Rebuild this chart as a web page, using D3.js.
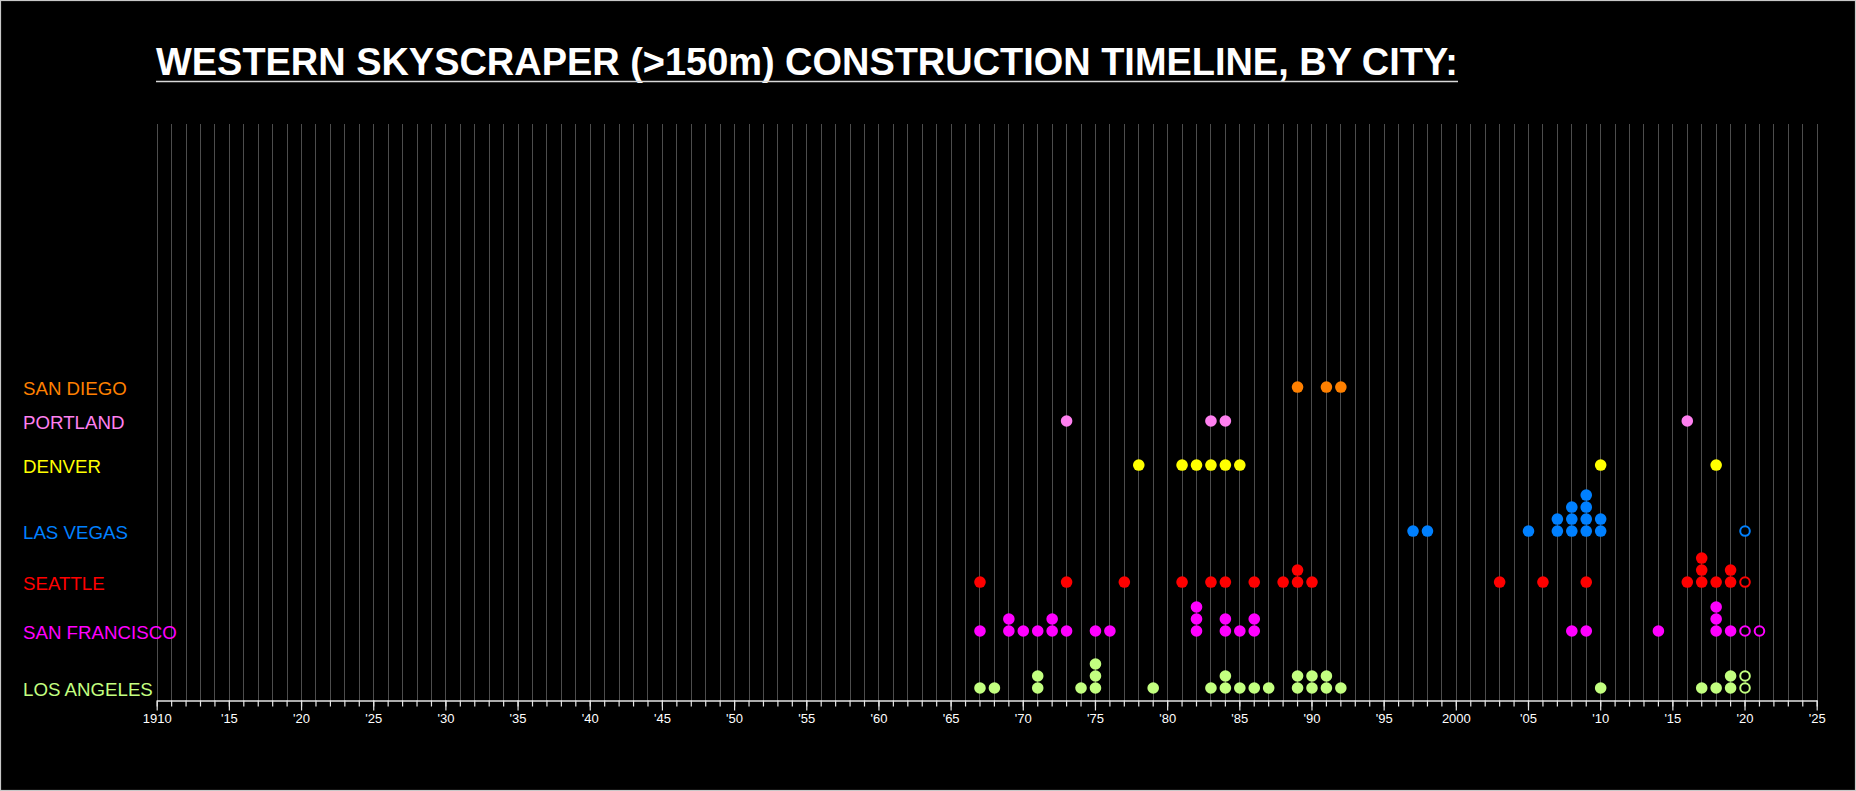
<!DOCTYPE html>
<html>
<head>
<meta charset="utf-8">
<script src="https://cdn.jsdelivr.net/npm/d3@7"></script>
<style>
  html, body { margin: 0; padding: 0; background: #000; }
  svg { display: block; }
</style>
</head>
<body>
<script>
// ---------- DATA ----------
const title = "WESTERN SKYSCRAPER (>150m) CONSTRUCTION TIMELINE, BY CITY:";
const cities = ["LOS ANGELES", "SAN FRANCISCO", "SEATTLE", "LAS VEGAS", "DENVER", "PORTLAND", "SAN DIEGO"];
const yearDomain = [1910, 2025];
const majorTickYears = [1910,1915,1920,1925,1930,1935,1940,1945,1950,1955,1960,1965,1970,1975,1980,1985,1990,1995,2000,2005,2010,2015,2020,2025];
const majorTickLabels = ["1910","'15","'20","'25","'30","'35","'40","'45","'50","'55","'60","'65","'70","'75","'80","'85","'90","'95","2000","'05","'10","'15","'20","'25"];

// completed towers (one entry per building, by completion year)
const losAngelesBuilt = [1967,1968,1971,1971,1974,1975,1975,1975,1979,1983,1984,1984,1985,1986,1987,1989,1989,1990,1990,1991,1991,1992,2010,2017,2018,2019,2019];
const sanFranciscoBuilt = [1967,1969,1969,1970,1971,1972,1972,1973,1975,1976,1982,1982,1982,1984,1984,1985,1986,1986,2008,2009,2014,2018,2018,2018,2019];
const seattleBuilt = [1967,1973,1977,1981,1983,1984,1986,1988,1989,1989,1990,2003,2006,2009,2016,2017,2017,2017,2018,2019,2019];
const lasVegasBuilt = [1997,1998,2005,2007,2007,2008,2008,2008,2009,2009,2009,2009,2010,2010];
const denverBuilt = [1978,1981,1982,1983,1984,1985,2010,2018];
const portlandBuilt = [1973,1983,1984,2016];
const sanDiegoBuilt = [1989,1991,1992];

// under construction / planned (hollow markers)
const losAngelesPlanned = [2020,2020];
const sanFranciscoPlanned = [2020,2021];
const seattlePlanned = [2020];
const lasVegasPlanned = [2020];
const denverPlanned = [];
const portlandPlanned = [];
const sanDiegoPlanned = [];

const builtByCity = [losAngelesBuilt, sanFranciscoBuilt, seattleBuilt, lasVegasBuilt, denverBuilt, portlandBuilt, sanDiegoBuilt];
const plannedByCity = [losAngelesPlanned, sanFranciscoPlanned, seattlePlanned, lasVegasPlanned, denverPlanned, portlandPlanned, sanDiegoPlanned];

// ---------- STYLE / LAYOUT ----------
const W = 1856, H = 791;
const cityColors = ["#c3ff80", "#ff00ff", "#ff0000", "#0080ff", "#ffff00", "#ff80f0", "#ff8000"];
// baseline row of each city, in stack-level units (one level = one dot step)
const rowBaseLevel = [0, 4.75, 8.83, 13.08, 18.58, 22.25, 25.08];
const axisY = 700.5;
const gridTop = 124;

const svg = d3.select("body").append("svg")
  .attr("width", W).attr("height", H);

svg.append("rect").attr("x", 0).attr("y", 0).attr("width", W).attr("height", H).attr("fill", "#000");
svg.append("rect").attr("x", 0.5).attr("y", 0.5).attr("width", W - 1).attr("height", H - 1)
  .attr("fill", "none").attr("stroke", "#c8c8c8").attr("stroke-width", 1.2);

const x = d3.scaleLinear().domain(yearDomain).range([156.7, 1816.7]);
const y = d3.scaleLinear().domain([0, 1]).range([688, 676]);

// Title
const titleText = svg.append("text")
  .attr("x", 156).attr("y", 75)
  .attr("fill", "#fff")
  .attr("font-family", "'Liberation Sans', Arial, sans-serif")
  .attr("font-weight", "bold")
  .attr("font-size", 39)
  .attr("textLength", 1302)
  .attr("lengthAdjust", "spacingAndGlyphs")
  .text(title);
svg.append("line").attr("x1", 156).attr("x2", 1458).attr("y1", 81.5).attr("y2", 81.5)
  .attr("stroke", "#d8d8d8").attr("stroke-width", 1.5);

// gridlines
const allYears = d3.range(yearDomain[0], yearDomain[1] + 1);
svg.append("g").selectAll("line").data(allYears).join("line")
  .attr("x1", d => Math.round(x(d)) + 0.5).attr("x2", d => Math.round(x(d)) + 0.5)
  .attr("y1", gridTop).attr("y2", axisY)
  .attr("stroke", "#4d4d4d").attr("stroke-width", 1);

// axes
const minorAxis = d3.axisBottom(x).tickValues(allYears).tickSize(6).tickSizeOuter(0).tickFormat("");
const gMinor = svg.append("g").attr("transform", `translate(0,${axisY})`).call(minorAxis);
gMinor.select(".domain").attr("stroke", "#e6e6e6").attr("stroke-width", 1.5);
gMinor.selectAll(".tick line").attr("stroke", "#e6e6e6").attr("stroke-width", 1.2);

const majorAxis = d3.axisBottom(x).tickValues(majorTickYears).tickSize(10).tickSizeOuter(0)
  .tickFormat((d, i) => majorTickLabels[i]);
const gMajor = svg.append("g").attr("transform", `translate(0,${axisY})`).call(majorAxis);
gMajor.select(".domain").remove();
gMajor.selectAll(".tick line").attr("stroke", "#e6e6e6").attr("stroke-width", 1.2);
gMajor.selectAll(".tick text")
  .attr("fill", "#fff")
  .attr("font-family", "'Liberation Sans', Arial, sans-serif")
  .attr("font-size", 13);

// city labels
svg.append("g").selectAll("text").data(cities).join("text")
  .attr("x", 23)
  .attr("y", (d, i) => y(rowBaseLevel[i]) + 1)
  .attr("dominant-baseline", "central")
  .attr("fill", (d, i) => cityColors[i])
  .attr("font-family", "'Liberation Sans', Arial, sans-serif")
  .attr("font-size", 18.7)
  .text(d => d);

// dots: stack per city per year
const dots = [];
cities.forEach((c, ci) => {
  const counts = new Map();
  builtByCity[ci].forEach(yr => {
    const k = counts.get(yr) || 0;
    counts.set(yr, k + 1);
    dots.push({ci, yr, level: rowBaseLevel[ci] + k, planned: false});
  });
  plannedByCity[ci].forEach(yr => {
    const k = counts.get(yr) || 0;
    counts.set(yr, k + 1);
    dots.push({ci, yr, level: rowBaseLevel[ci] + k, planned: true});
  });
});

svg.append("g").selectAll("circle").data(dots).join("circle")
  .attr("cx", d => x(d.yr) + 0.5)
  .attr("cy", d => y(d.level))
  .attr("r", d => d.planned ? 4.8 : 5.8)
  .attr("fill", d => d.planned ? "#000" : cityColors[d.ci])
  .attr("stroke", d => d.planned ? cityColors[d.ci] : "none")
  .attr("stroke-width", d => d.planned ? 2 : 0);
</script>
</body>
</html>
